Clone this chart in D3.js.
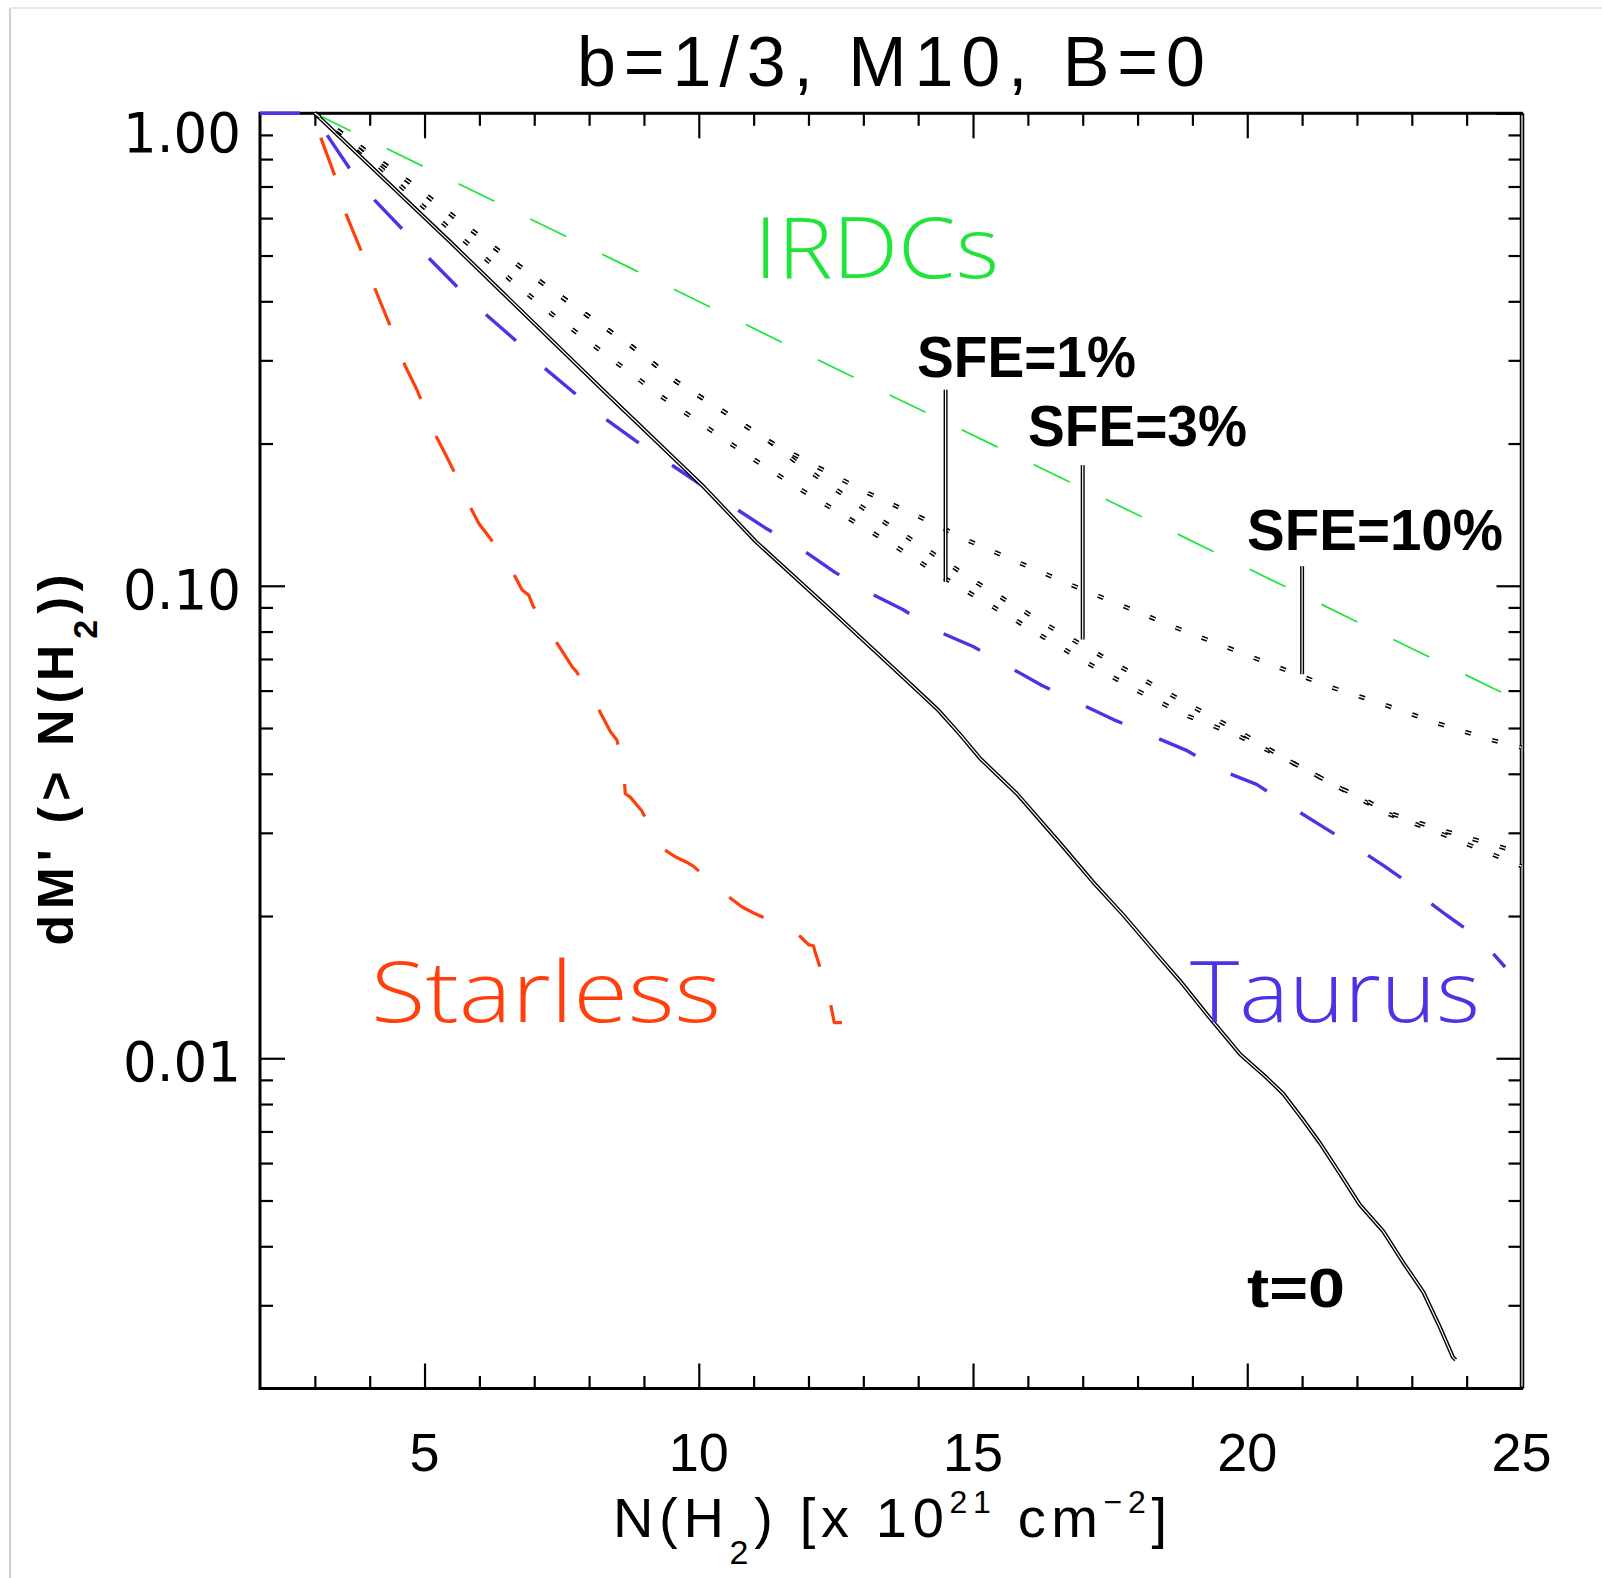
<!DOCTYPE html>
<html>
<head>
<meta charset="utf-8">
<script src="https://cdn.jsdelivr.net/npm/d3@7"></script>
<style>
  html, body { margin: 0; padding: 0; background: #fff; }
  svg { display: block; }
</style>
</head>
<body>
<svg id="chart" width="1602" height="1578"></svg>
<script>
// N(H2) in 1e21 cm^-2 against cumulative mass fraction dM'(>N(H2))

// t=0 (solid black)
var t0X = [3, 5.5, 8.26, 10.09, 11.04, 12.34, 13.55, 14.37, 14.76, 15.13, 15.80, 16.59, 17.19, 17.74, 18.41, 18.77, 19.26, 19.87, 20.35, 20.66, 21.02, 21.33, 21.69, 22.05, 22.48, 22.84, 23.21, 23.51, 23.75, 23.8]
var t0Y = [1, 0.53, 0.259, 0.162, 0.124, 0.0903, 0.0669, 0.0545, 0.0485, 0.0431, 0.0363, 0.0285, 0.0236, 0.0201, 0.0163, 0.0146, 0.0124, 0.0102, 0.0091, 0.0084, 0.0074, 0.0066, 0.0057, 0.0049, 0.0043, 0.0037, 0.0032, 0.0027, 0.00233, 0.0023]

// SFE curves (dotted)
var sfe1X = [3, 3.47, 4.23, 4.98, 5.77, 6.53, 7.32, 8.11, 9.33, 10.20, 11.04, 11.89, 12.76, 13.64, 14.49, 15.36, 16.22, 17.10, 17.98, 18.88, 19.81, 20.78, 21.66, 22.54, 23.5, 25]
var sfe1Y = [1, 0.905, 0.761, 0.634, 0.532, 0.448, 0.376, 0.321, 0.251, 0.2143, 0.184, 0.159, 0.1383, 0.120, 0.1037, 0.0903, 0.0787, 0.0685, 0.0601, 0.0532, 0.0483, 0.0425, 0.0375, 0.0330, 0.0300, 0.0255]

var sfe3X = [3, 3.89, 4.71, 5.52, 6.32, 7.14, 7.96, 8.78, 9.60, 10.45, 11.29, 11.73, 12.54, 13.37, 14.22, 15.07, 16.37, 17.26, 18.15, 19.03, 19.92, 20.78, 21.66, 22.10, 22.54, 23.5, 25]
var sfe3Y = [1, 0.839, 0.717, 0.606, 0.515, 0.438, 0.374, 0.321, 0.270, 0.234, 0.202, 0.1845, 0.1586, 0.1366, 0.118, 0.1015, 0.0823, 0.0719, 0.0629, 0.0553, 0.0486, 0.0425, 0.0375, 0.0355, 0.0332, 0.0305, 0.0272]

var sfe10X = [3, 3.89, 4.71, 5.52, 6.32, 7.14, 7.96, 8.78, 9.60, 10.45, 11.29, 12.18, 13.09, 14.02, 14.92, 15.86, 16.80, 17.74, 18.68, 19.63, 20.57, 21.51, 22.47, 23.44, 24.41, 25]
var sfe10Y = [1, 0.839, 0.717, 0.606, 0.515, 0.438, 0.374, 0.321, 0.270, 0.234, 0.202, 0.178, 0.157, 0.140, 0.1245, 0.1117, 0.1003, 0.0906, 0.0817, 0.0741, 0.0672, 0.0611, 0.0562, 0.0513, 0.0473, 0.0455]

// observed clouds (dashed)
var irdcX = [3, 8.86, 13.42, 18.77, 24.48, 25]
var irdcY = [1, 0.464, 0.2554, 0.128, 0.0607, 0.057]

var taurusX = [2, 3, 3.23, 3.63, 4.09, 4.58, 5.07, 5.58, 6.11, 6.64, 7.17, 7.66, 8.29, 8.84, 9.48, 10.06, 10.66, 11.24, 11.90, 12.47, 13.11, 13.72, 14.37, 15.01, 15.65, 16.25, 16.92, 17.56, 18.23, 18.88, 19.52, 20.17, 20.77, 21.36, 21.99, 22.5, 23.0, 23.27, 23.63, 24.24, 24.70]
var taurusY = [1, 1, 0.897, 0.765, 0.655, 0.571, 0.495, 0.431, 0.376, 0.332, 0.290, 0.260, 0.226, 0.203, 0.181, 0.163, 0.146, 0.132, 0.119, 0.107, 0.0966, 0.0891, 0.080, 0.0743, 0.0674, 0.0616, 0.0565, 0.0521, 0.0483, 0.0449, 0.0407, 0.038, 0.0342, 0.031, 0.0279, 0.0255, 0.0232, 0.0216, 0.0201, 0.0179, 0.0156]

var starlessX = [2, 3, 3.11, 3.36, 3.57, 3.84, 4.09, 4.36, 4.61, 4.86, 5.20, 5.36, 5.52, 5.83, 5.99, 6.21, 6.62, 6.78, 6.90, 6.98, 7.38, 7.69, 7.77, 8.15, 8.39, 8.51, 8.64, 8.66, 8.75, 8.96, 9.30, 9.57, 9.78, 9.90, 10.45, 10.79, 11.00, 11.64, 11.85, 12.00, 12.09, 12.12, 12.36, 12.47, 12.61]
var starlessY = [1, 1, 0.887, 0.740, 0.611, 0.513, 0.427, 0.358, 0.298, 0.26, 0.2085, 0.192, 0.1763, 0.147, 0.1355, 0.1254, 0.1062, 0.098, 0.0955, 0.0906, 0.0767, 0.0674, 0.0658, 0.0554, 0.0491, 0.0471, 0.0391, 0.0363, 0.0357, 0.0334, 0.0280, 0.0267, 0.0260, 0.0255, 0.0224, 0.0209, 0.0203, 0.0188, 0.0181, 0.0174, 0.0173, 0.0168, 0.0138, 0.0119, 0.0119]

// SFE markers: x position, top and bottom of the vertical bar
var sfeLabels = ["SFE=1%", "SFE=3%", "SFE=10%"]
var sfeMarkX = [14.5, 17.0, 21.0]
var sfeMarkTop = [0.26, 0.18, 0.11]
var sfeMarkBottom = [0.102, 0.077, 0.065]

// ticks
var xMajor = [5, 10, 15, 20, 25]
var xMinor = [3, 4, 6, 7, 8, 9, 11, 12, 13, 14, 16, 17, 18, 19, 21, 22, 23, 24]
var xTickLabels = ["5", "10", "15", "20", "25"]
var yMajor = [0.01, 0.1, 1]
var yMinor = [0.003, 0.004, 0.005, 0.006, 0.007, 0.008, 0.009,
              0.02, 0.03, 0.04, 0.05, 0.06, 0.07, 0.08, 0.09,
              0.2, 0.3, 0.4, 0.5, 0.6, 0.7, 0.8, 0.9]
var yTickLabels = ["0.01", "0.10", "1.00"]

var svg = d3.select("#chart")
var L = 260, R = 1521.5, T = 113.3, B = 1388.5

var x = d3.scaleLinear().domain([2, 25]).range([L, R])
var y = d3.scaleLog().domain([0.002, 1]).range([B, T])

// faint page border
svg.append("line").attr("x1", 10).attr("x2", 10).attr("y1", 8).attr("y2", 1578)
  .attr("stroke", "#cfcfcf").attr("stroke-width", 2)
svg.append("line").attr("x1", 10).attr("x2", 1602).attr("y1", 8).attr("y2", 8)
  .attr("stroke", "#e8e8e8").attr("stroke-width", 2)

// ticks on all four sides, pointing in
function ticks(axis, vals, len, tr) {
  var g = svg.append("g").attr("transform", tr)
    .call(axis.tickValues(vals).tickSize(-len).tickFormat(""))
  g.select(".domain").remove()
  g.selectAll("line").attr("stroke", "#000").attr("stroke-width", 2.2)
}
ticks(d3.axisBottom(x), xMinor, 12.5, "translate(0," + B + ")")
ticks(d3.axisBottom(x), xMajor, 25, "translate(0," + B + ")")
ticks(d3.axisTop(x), xMinor, 12.5, "translate(0," + T + ")")
ticks(d3.axisTop(x), xMajor, 25, "translate(0," + T + ")")
ticks(d3.axisLeft(y), yMinor, 13, "translate(" + L + ",0)")
ticks(d3.axisLeft(y), yMajor, 25, "translate(" + L + ",0)")
ticks(d3.axisRight(y), yMinor, 13, "translate(" + R + ",0)")
ticks(d3.axisRight(y), yMajor, 25, "translate(" + R + ",0)")

// frame
svg.append("rect").attr("x", L).attr("y", T).attr("width", R - L).attr("height", B - T)
  .attr("fill", "none").attr("stroke", "#000").attr("stroke-width", 3)
svg.append("line").attr("x1", R + 0.5).attr("x2", R + 0.5).attr("y1", T).attr("y2", B)
  .attr("stroke", "#000").attr("stroke-width", 4.5)
svg.append("line").attr("x1", R + 0.5).attr("x2", R + 0.5).attr("y1", T + 2).attr("y2", B - 2)
  .attr("stroke", "#fff").attr("stroke-width", 1.2)

// tick labels
svg.append("g").selectAll("text").data(xMajor).join("text")
  .attr("x", d => x(d)).attr("y", B + 82.5)
  .attr("text-anchor", "middle")
  .style("font-family", "'Liberation Sans', Arial, sans-serif").style("font-size", "54px")
  .text((d, i) => xTickLabels[i])

svg.append("g").selectAll("text").data(yMajor).join("text")
  .attr("x", 241).attr("y", d => Math.max(y(d), T + 16) + 23)
  .attr("text-anchor", "end")
  .attr("textLength", 118).attr("lengthAdjust", "spacingAndGlyphs")
  .style("font-family", "'DejaVu Sans', sans-serif").style("font-size", "55px")
  .text((d, i) => yTickLabels[i])

// curves
var line = d3.line().x(d => x(d[0])).y(d => y(d[1]))

function dashed(xs, ys, color, w) {
  svg.append("path").datum(d3.zip(xs, ys)).attr("d", line)
    .attr("fill", "none").attr("stroke", color).attr("stroke-width", w)
    .attr("stroke-dasharray", "40 40").attr("stroke-linejoin", "round")
}
function doubled(data, dash, w) {
  svg.append("path").datum(data).attr("d", line)
    .attr("fill", "none").attr("stroke", "#000").attr("stroke-width", w)
    .attr("stroke-dasharray", dash).attr("stroke-linejoin", "round")
  svg.append("path").datum(data).attr("d", line)
    .attr("fill", "none").attr("stroke", "#fff").attr("stroke-width", w * 0.3)
    .attr("stroke-dasharray", dash).attr("stroke-linejoin", "round")
}

dashed(irdcX, irdcY, "#1fe43a", 1.7)
dashed(starlessX, starlessY, "#ff400c", 3.2)
dashed(taurusX, taurusY, "#4b34e6", 3.4)

doubled(d3.zip(t0X, t0Y), null, 4)
doubled(d3.zip(sfe1X, sfe1Y), "6 22", 4.4)
doubled(d3.zip(sfe3X, sfe3Y), "6 22", 4.4)
doubled(d3.zip(sfe10X, sfe10Y), "6 22", 4.4)

sfeMarkX.forEach(function(sx, i) {
  doubled([[sx, sfeMarkTop[i]], [sx, sfeMarkBottom[i]]], null, 4)
})

// labels
function label(txt, px, py, size, color, weight, len, anchor, family) {
  var t = svg.append("text").attr("x", px).attr("y", py)
    .attr("text-anchor", anchor || "start")
    .style("font-family", family || "'Liberation Sans', Arial, sans-serif")
    .style("font-size", size + "px").style("font-weight", weight || "normal")
    .attr("fill", color).text(txt)
  if (len) t.attr("textLength", len).attr("lengthAdjust", "spacingAndGlyphs")
  return t
}

label("b=1/3, M10, B=0", 891, 86, 70, "#000", "normal", 628, "middle")
  .attr("lengthAdjust", "spacing")

var thin = "'Open Sans', 'Noto Sans', sans-serif"
label("IRDCs", 754, 278, 84, "#1fe43a", 300, 245, "start", thin)
label("Starless", 371, 1022, 84, "#ff400c", 300, 350, "start", thin)
label("Taurus", 1190, 1022, 84, "#4b34e6", 300, 290, "start", thin)

var sfeTextX = [917, 1028, 1247]
var sfeTextY = [377, 446, 550]
var sfeTextW = [219, 219, 256]
sfeLabels.forEach(function(s, i) {
  label(s, sfeTextX[i], sfeTextY[i], 57, "#000", "bold", sfeTextW[i])
})
label("t=0", 1247, 1307, 56, "#000", "bold", 98)

// axis titles
var xt = svg.append("text").attr("x", 890).attr("y", 1537).attr("text-anchor", "middle")
  .attr("textLength", 554).attr("lengthAdjust", "spacing")
  .style("font-family", "'Liberation Sans', Arial, sans-serif").style("font-size", "56px")
xt.append("tspan").text("N(H")
xt.append("tspan").attr("dy", 27).style("font-size", "34px").text("2")
xt.append("tspan").attr("dy", -27).text(") [x 10")
xt.append("tspan").attr("dy", -24).style("font-size", "32px").text("21")
xt.append("tspan").attr("dy", 24).text(" cm")
xt.append("tspan").attr("dy", -24).style("font-size", "32px").text("\u22122")
xt.append("tspan").attr("dy", 24).text("]")

var yt = svg.append("text").attr("transform", "translate(73,760) rotate(-90)")
  .attr("text-anchor", "middle")
  .attr("textLength", 371).attr("lengthAdjust", "spacing")
  .style("font-family", "'Liberation Sans', Arial, sans-serif").style("font-size", "50px")
  .style("font-weight", "bold")
yt.append("tspan").text("dM' (> N(H")
yt.append("tspan").attr("dy", 24).style("font-size", "34px").text("2")
yt.append("tspan").attr("dy", -24).text("))")
</script>
</body>
</html>
